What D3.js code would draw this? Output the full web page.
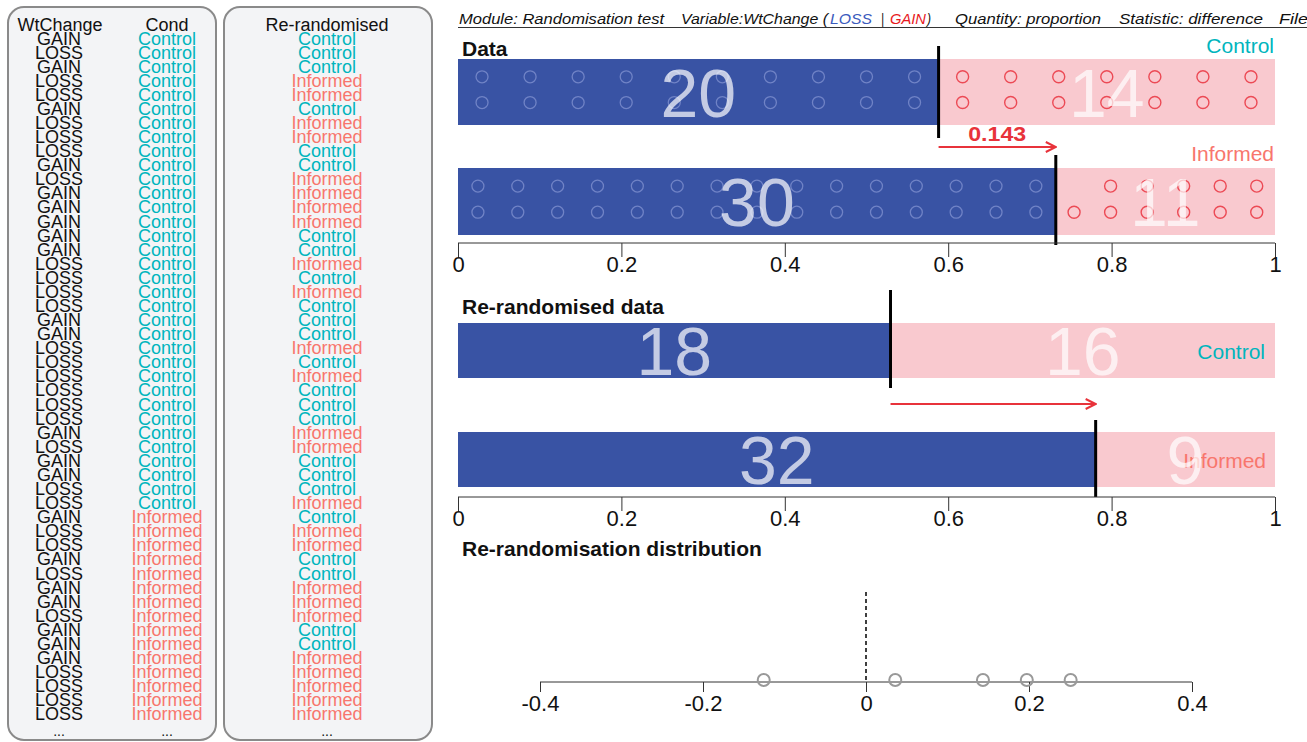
<!DOCTYPE html>
<html><head><meta charset="utf-8">
<script src="https://cdnjs.cloudflare.com/ajax/libs/d3/7.8.5/d3.min.js"></script>
<style>html,body{margin:0;padding:0;background:#fff;overflow:hidden}svg{display:block;font-family:"Liberation Sans",Arial,sans-serif}</style>
</head><body><svg id="c" width="1307" height="742"></svg>
<script>
// ---------- data ----------
const wtChange = ["GAIN","LOSS","GAIN","LOSS","LOSS","GAIN","LOSS","LOSS","LOSS","GAIN",
  "LOSS","GAIN","GAIN","GAIN","GAIN","GAIN","LOSS","LOSS","LOSS","LOSS",
  "GAIN","GAIN","LOSS","LOSS","LOSS","LOSS","LOSS","LOSS","GAIN","LOSS",
  "GAIN","GAIN","LOSS","LOSS","GAIN","LOSS","LOSS","GAIN","LOSS","GAIN",
  "GAIN","LOSS","GAIN","GAIN","GAIN","LOSS","LOSS","LOSS","LOSS"];
const cond = [].concat(Array(34).fill("Control"), Array(15).fill("Informed"));
const reRandomised = ["Control","Control","Control","Informed","Informed","Control","Informed","Informed","Control","Control",
  "Informed","Informed","Informed","Informed","Control","Control","Informed","Control","Informed","Control",
  "Control","Control","Informed","Control","Informed","Control","Control","Control","Informed","Informed",
  "Control","Control","Control","Informed","Control","Informed","Informed","Control","Control","Informed",
  "Informed","Informed","Control","Control","Informed","Informed","Informed","Informed","Informed"];
const groups = ["Control","Informed"];
const dataLoss = [20, 30];
const dataGain = [14, 11];
const reLoss = [18, 32];
const reGain = [16, 9];
const diffLabel = "0.143";
const distValues = [-0.1255, 0.0359, 0.1435, 0.1973, 0.2511];
const barTicks = [0, 0.2, 0.4, 0.6, 0.8, 1];
const distTicks = [-0.4, -0.2, 0, 0.2, 0.4];

// ---------- styles ----------
const BLUE = "#3953a4", PINK = "#f9c9cf", CYAN = "#00b5bd", SALMON = "#f8766d", RED = "#e8333b";
const svg = d3.select("#c");

// ---------- left panels ----------
const rowY = d3.scaleLinear().domain([0, 48]).range([44.5, 720.3]);
[[8, 208], [224, 208]].forEach(([bx, bw]) => {
  svg.append("rect").attr("x", bx).attr("y", 7).attr("width", bw).attr("height", 733)
    .attr("rx", 16).attr("fill", "#f3f4f6").attr("stroke", "#8a8a8a").attr("stroke-width", 2);
});
const colText = (x, txt) => svg.append("text").attr("x", x).attr("y", 31).attr("text-anchor", "middle")
  .attr("font-size", 18).attr("fill", "#111").text(txt);
colText(60, "WtChange"); colText(167, "Cond"); colText(327, "Re-randomised");
const cc = v => v === "Control" ? CYAN : SALMON;
svg.append("g").selectAll("text").data(wtChange).join("text")
  .attr("x", 59).attr("y", (d, i) => rowY(i)).attr("text-anchor", "middle").attr("font-size", 18)
  .attr("fill", "#111").text(d => d);
svg.append("g").selectAll("text").data(cond).join("text")
  .attr("x", 167).attr("y", (d, i) => rowY(i)).attr("text-anchor", "middle").attr("font-size", 18)
  .attr("fill", cc).text(d => d);
svg.append("g").selectAll("text").data(reRandomised).join("text")
  .attr("x", 327).attr("y", (d, i) => rowY(i)).attr("text-anchor", "middle").attr("font-size", 18)
  .attr("fill", cc).text(d => d);
[59, 167, 327].forEach(x => svg.append("text").attr("x", x).attr("y", 736).attr("text-anchor", "middle")
  .attr("font-size", 14).attr("fill", "#111").text("..."));

// ---------- header ----------
const hdr = [
  {t: "Module: Randomisation test", x: 459, w: 205, c: "#111"},
  {t: "Variable:WtChange (", x: 681, w: 147, c: "#111"},
  {t: "LOSS", x: 830, w: 42, c: "#3b5bbd"},
  {t: "|", x: 881, w: 3, c: "#111"},
  {t: "GAIN", x: 890, w: 36, c: "#e8191e"},
  {t: ")", x: 927, w: 4, c: "#111"},
  {t: "Quantity: proportion", x: 955, w: 146, c: "#111"},
  {t: "Statistic: difference", x: 1119, w: 144, c: "#111"},
  {t: "File:", x: 1279, w: 34, c: "#111"}
];
svg.append("g").selectAll("text").data(hdr).join("text")
  .attr("x", d => d.x).attr("y", 24).attr("font-size", 14).attr("font-style", "italic")
  .attr("fill", d => d.c).attr("textLength", d => d.w).attr("lengthAdjust", "spacingAndGlyphs").text(d => d.t);
svg.append("line").attr("x1", 458).attr("x2", 1307).attr("y1", 27.5).attr("y2", 27.5).attr("stroke", "#333").attr("stroke-width", 1);

// ---------- bar sections ----------
const x = d3.scaleLinear().domain([0, 1]).range([458, 1275]);
const defs = svg.append("defs");
defs.append("marker").attr("id", "arr").attr("viewBox", "0 0 12 12").attr("refX", 11).attr("refY", 6)
  .attr("markerWidth", 12).attr("markerHeight", 12).attr("markerUnits", "userSpaceOnUse").attr("orient", "auto")
  .append("path").attr("d", "M1,1 L11,6 L1,11").attr("fill", "none").attr("stroke", RED).attr("stroke-width", 2);

function title(txt, y) {
  svg.append("text").attr("x", 462).attr("y", y).attr("font-size", 21).attr("font-weight", "bold")
    .attr("fill", "#111").text(txt);
}
function bar(loss, gain, y0, h, lineTop, lineBot, dots) {
  const p = loss / (loss + gain);
  const xs = x(p);
  svg.append("rect").attr("x", x(0)).attr("y", y0).attr("width", xs - x(0)).attr("height", h).attr("fill", BLUE);
  svg.append("rect").attr("x", xs).attr("y", y0).attr("width", x(1) - xs).attr("height", h).attr("fill", PINK);
  if (dots) {
    const rows = [y0 + h * 0.27, y0 + h * 0.66];
    const lc = Math.ceil(loss / 2), gc = Math.ceil(gain / 2);
    const lw = (xs - x(0)) / lc, gw = (x(1) - xs) / gc;
    const lossPts = d3.range(loss).map(i => ({cx: x(0) + (Math.floor(i / 2) + 0.5) * lw, cy: rows[i % 2]}));
    const gainPts = d3.range(gain).map(i => ({cx: xs + (gc - 1 - Math.floor(i / 2) + 0.5) * gw, cy: rows[1 - i % 2]}));
    svg.append("g").selectAll("circle").data(lossPts).join("circle").attr("cx", d => d.cx).attr("cy", d => d.cy)
      .attr("r", 6).attr("fill", "none").attr("stroke", "#7083c6").attr("stroke-width", 1.3);
    svg.append("g").selectAll("circle").data(gainPts).join("circle").attr("cx", d => d.cx).attr("cy", d => d.cy)
      .attr("r", 6).attr("fill", "none").attr("stroke", "#ec4a55").attr("stroke-width", 1.4);
  }
  return {xs, nums: [[ (x(0) + xs) / 2, loss], [(xs + x(1)) / 2, gain]], lineTop, lineBot, cy: y0 + h / 2};
}
function numbers(b) {
  svg.append("g").selectAll("text").data(b.nums).join("text")
    .attr("x", d => d[0]).attr("y", b.cy + 24.5).attr("text-anchor", "middle").attr("font-size", 68)
    .attr("fill", "#fff").attr("fill-opacity", 0.7).text(d => d[1]);
}
function divider(b) {
  svg.append("line").attr("x1", b.xs).attr("x2", b.xs).attr("y1", b.lineTop).attr("y2", b.lineBot)
    .attr("stroke", "#000").attr("stroke-width", 3);
}
function axis(y, ticks, scale) {
  const g = svg.append("g").attr("transform", `translate(0,${y})`)
    .call(d3.axisBottom(scale).tickValues(ticks).tickSize(14).tickFormat(d => String(d)));
  g.select(".domain").attr("stroke", "#333").attr("d", `M${scale.range()[0]},0H${scale.range()[1]}`);
  g.selectAll(".tick line").attr("stroke", "#333");
  g.selectAll(".tick text").attr("font-size", 22).attr("font-family", "Liberation Sans, Arial, sans-serif")
    .attr("fill", "#111").attr("dy", "0.55em");
  return g;
}
function grpLabel(txt, xr, y, col) {
  svg.append("text").attr("x", xr).attr("y", y).attr("text-anchor", "end").attr("font-size", 21)
    .attr("fill", col).text(txt);
}

// Data
title("Data", 56);
grpLabel("Control", 1274, 53, CYAN);
grpLabel("Informed", 1274, 161, SALMON);
const b1 = bar(dataLoss[0], dataGain[0], 59, 66, 46, 138, true);
const b2 = bar(dataLoss[1], dataGain[1], 168, 67, 155, 245, true);
numbers(b1); numbers(b2); divider(b1); divider(b2);
svg.append("line").attr("x1", b1.xs).attr("x2", b2.xs).attr("y1", 147).attr("y2", 147)
  .attr("stroke", RED).attr("stroke-width", 2).attr("marker-end", "url(#arr)");
svg.append("text").attr("x", (b1.xs + b2.xs) / 2).attr("y", 141).attr("text-anchor", "middle")
  .attr("font-size", 20).attr("font-weight", "bold").attr("fill", RED)
  .attr("textLength", 58).attr("lengthAdjust", "spacingAndGlyphs").text(diffLabel);
axis(243, barTicks, x);

// Re-randomised data
title("Re-randomised data", 314);
const b3 = bar(reLoss[0], reGain[0], 323, 55, 290, 388, false);
const b4 = bar(reLoss[1], reGain[1], 432, 55, 420, 497, false);
grpLabel("Control", 1265, 359, CYAN);
grpLabel("Informed", 1266, 468, SALMON);
numbers(b3); numbers(b4); divider(b3); divider(b4);
svg.append("line").attr("x1", b3.xs).attr("x2", b4.xs).attr("y1", 404).attr("y2", 404)
  .attr("stroke", RED).attr("stroke-width", 2).attr("marker-end", "url(#arr)");
axis(497, barTicks, x);

// Distribution
title("Re-randomisation distribution", 556);
const xd = d3.scaleLinear().domain([-0.4, 0.4]).range([540, 1192]);
axis(682, distTicks, xd).selectAll(".tick line").attr("y2", 10);
svg.append("line").attr("x1", xd(0)).attr("x2", xd(0)).attr("y1", 592).attr("y2", 682)
  .attr("stroke", "#000").attr("stroke-width", 1.5).attr("stroke-dasharray", "4,3");
svg.append("g").selectAll("circle").data(distValues).join("circle")
  .attr("cx", d => xd(d)).attr("cy", 680).attr("r", 6).attr("fill", "none")
  .attr("stroke", "#999").attr("stroke-width", 2);
</script></body></html>
